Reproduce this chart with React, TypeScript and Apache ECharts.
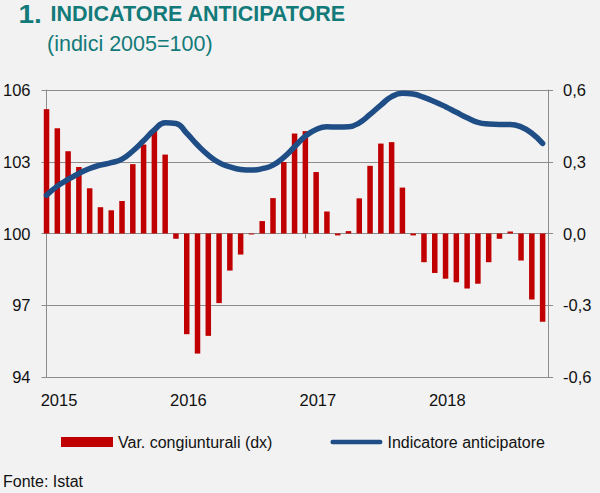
import React, { useEffect, useRef } from "react";
import * as echarts from "echarts";

const months = [
  "2015-01","2015-02","2015-03","2015-04","2015-05","2015-06","2015-07","2015-08","2015-09","2015-10","2015-11","2015-12",
  "2016-01","2016-02","2016-03","2016-04","2016-05","2016-06","2016-07","2016-08","2016-09","2016-10","2016-11","2016-12",
  "2017-01","2017-02","2017-03","2017-04","2017-05","2017-06","2017-07","2017-08","2017-09","2017-10","2017-11","2017-12",
  "2018-01","2018-02","2018-03","2018-04","2018-05","2018-06","2018-07","2018-08","2018-09","2018-10","2018-11",
];

const varCongiunturali = [
  0.52, 0.44, 0.344, 0.278, 0.189, 0.11, 0.097, 0.136, 0.29, 0.372, 0.437, 0.33,
  -0.022, -0.421, -0.502, -0.428, -0.291, -0.155, -0.088, -0.004, 0.052, 0.148, 0.299, 0.418,
  0.428, 0.257, 0.092, -0.008, 0.01, 0.147, 0.283, 0.376, 0.382, 0.192, -0.008, -0.12,
  -0.165, -0.189, -0.204, -0.23, -0.21, -0.12, -0.022, 0.008, -0.113, -0.276, -0.369,
];

const indicatore = [
  101.6, 101.98, 102.26, 102.51, 102.72, 102.86, 102.96, 103.11, 103.45, 103.88, 104.33, 104.63,
  104.6, 104.19, 103.7, 103.28, 102.96, 102.79, 102.68, 102.65, 102.71, 102.86, 103.18, 103.63,
  104.07, 104.35, 104.46, 104.45, 104.46, 104.63, 104.98, 105.37, 105.72, 105.86, 105.83, 105.69,
  105.51, 105.3, 105.07, 104.84, 104.65, 104.58, 104.56, 104.56, 104.46, 104.19, 103.77,
];

const yearLabels = ["2015", "2016", "2017", "2018"];
const leftTicks = [94, 97, 100, 103, 106];
const rightTicks = [-0.6, -0.3, 0, 0.3, 0.6];

const FONT = "'Liberation Sans', Arial, sans-serif";
const TEAL = "#127a79";
const RED = "#c00000";
const BLUE = "#1f4d85";
const GRID = "#8c8c8c";
const BG = "#f2f2f2";
const LABEL = 16.5;

export default function App() {
  const ref = useRef<HTMLDivElement>(null);

  useEffect(() => {
    if (!ref.current) return;
    const chart = echarts.init(ref.current, undefined, { renderer: "svg" });
    const barData = varCongiunturali.map((v, i) => [months.indexOf(months[i]), v]);
    const lineData = indicatore.map((v, i) => [months.indexOf(months[i]), v]);

    chart.setOption({
      animation: false,
      backgroundColor: BG,
      textStyle: { fontFamily: FONT },
      grid: { left: 45, right: 52, top: 90, height: 287, containLabel: false },
      legend: {
        left: 56,
        top: 429,
        itemWidth: 52,
        itemHeight: 10,
        itemGap: 58,
        textStyle: { fontFamily: FONT, fontSize: 16, color: "#111" },
        data: [
          { name: "Var. congiunturali (dx)", icon: "rect" },
          {
            name: "Indicatore anticipatore",
            icon: "path://M2,0 H54 A2.4,2.4 0 0 1 54,4.8 H2 A2.4,2.4 0 0 1 2,0 Z",
          },
        ],
      },
      xAxis: {
        type: "value",
        min: 0,
        max: 46.5,
        interval: 12,
        splitLine: { show: false },
        axisLine: { show: true, lineStyle: { color: GRID, width: 1 } },
        axisTick: { show: true, length: 5, lineStyle: { color: GRID } },
        axisLabel: {
          showMaxLabel: false,
          margin: 14,
          padding: [0, 0, 0, 25],
          fontFamily: FONT,
          fontSize: LABEL,
          color: "#111",
          formatter: (v: number) =>
            v % 12 === 0 ? yearLabels[v / 12] ?? "" : "",
        },
      },
      yAxis: [
        {
          type: "value",
          min: leftTicks[0],
          max: leftTicks[leftTicks.length - 1],
          interval: 3,
          axisLine: { show: true, lineStyle: { color: GRID } },
          axisTick: { show: true, length: 5, lineStyle: { color: GRID } },
          splitLine: { show: true, lineStyle: { color: GRID, width: 1 } },
          axisLabel: { margin: 16, fontFamily: FONT, fontSize: LABEL, color: "#111" },
        },
        {
          type: "value",
          position: "right",
          min: rightTicks[0],
          max: rightTicks[rightTicks.length - 1],
          interval: 0.3,
          axisLine: { show: true, lineStyle: { color: GRID } },
          axisTick: { show: true, length: 5, lineStyle: { color: GRID } },
          splitLine: { show: false },
          axisLabel: {
            margin: 15,
            fontFamily: FONT,
            fontSize: LABEL,
            color: "#111",
            formatter: (v: number) => (Math.round(v * 10) / 10).toFixed(1).replace(".", ","),
          },
        },
      ],
      graphic: [
        {
          type: "text",
          x: 18.5,
          y: 14.2,
          scaleX: 1.12,
          style: {
            text: "1.",
            font: `bold 25px ${FONT}`,
            fill: TEAL,
            verticalAlign: "middle",
          },
        },
        {
          type: "text",
          x: 50.5,
          y: 14.4,
          style: {
            text: "INDICATORE ANTICIPATORE",
            font: `bold 21.5px ${FONT}`,
            fill: TEAL,
            verticalAlign: "middle",
          },
        },
        {
          type: "text",
          x: 47,
          y: 44,
          style: {
            text: "(indici 2005=100)",
            font: `21.5px ${FONT}`,
            fill: TEAL,
            verticalAlign: "middle",
          },
        },
        {
          type: "text",
          x: 3,
          y: 481,
          style: {
            text: "Fonte: Istat",
            font: `16px ${FONT}`,
            fill: "#111",
            verticalAlign: "middle",
          },
        },
      ],
      series: [
        {
          name: "Var. congiunturali (dx)",
          type: "bar",
          yAxisIndex: 1,
          barWidth: 5.5,
          clip: true,
          itemStyle: { color: RED },
          data: barData,
        },
        {
          name: "Indicatore anticipatore",
          type: "line",
          yAxisIndex: 0,
          smooth: 0.5,
          symbol: "none",
          color: BLUE,
          lineStyle: { color: BLUE, width: 5.5, cap: "round" },
          itemStyle: { color: BLUE },
          data: lineData,
        },
      ],
    });
    return () => chart.dispose();
  }, []);

  return (
    <div
      ref={ref}
      style={{ position: "fixed", left: 0, top: 0, width: 600, height: 493, background: BG }}
    />
  );
}
